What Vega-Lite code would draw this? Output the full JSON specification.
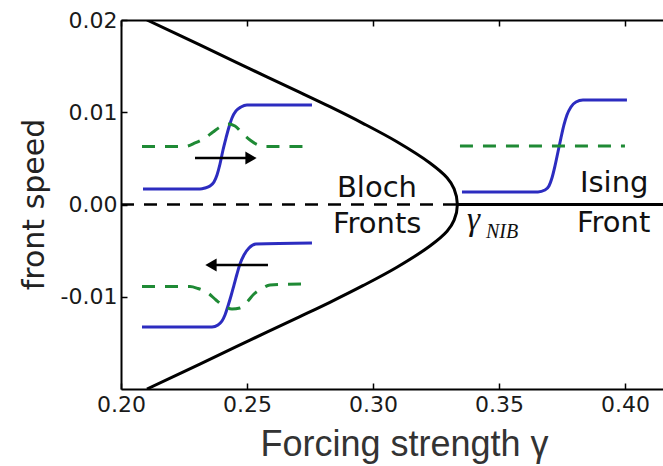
{
  "$schema": "https://vega.github.io/schema/vega-lite/v6.json",
  "width": 542,
  "height": 369,
  "autosize": {"type": "none"},
  "padding": {"left": 121, "top": 20, "right": 0, "bottom": 77},
  "background": "white",
  "config": {"view": {"stroke": null}, "axis": {"grid": false}},
  "datasets": {
    "curve": [
      {"i": 0, "g": 0.2103, "v": 0.0200},
      {"i": 1, "g": 0.2313, "v": 0.0173},
      {"i": 2, "g": 0.2512, "v": 0.0147},
      {"i": 3, "g": 0.2710, "v": 0.01215},
      {"i": 4, "g": 0.2829, "v": 0.0106},
      {"i": 5, "g": 0.2960, "v": 0.0088},
      {"i": 6, "g": 0.3095, "v": 0.0068},
      {"i": 7, "g": 0.3226, "v": 0.0045},
      {"i": 8, "g": 0.3294, "v": 0.0029},
      {"i": 9, "g": 0.3322, "v": 0.0017},
      {"i": 10, "g": 0.3335, "v": 0.0},
      {"i": 11, "g": 0.3322, "v": -0.0017},
      {"i": 12, "g": 0.3294, "v": -0.0029},
      {"i": 13, "g": 0.3226, "v": -0.0045},
      {"i": 14, "g": 0.3095, "v": -0.0068},
      {"i": 15, "g": 0.2960, "v": -0.0088},
      {"i": 16, "g": 0.2829, "v": -0.0106},
      {"i": 17, "g": 0.2710, "v": -0.01215},
      {"i": 18, "g": 0.2512, "v": -0.0147},
      {"i": 19, "g": 0.2313, "v": -0.0173},
      {"i": 20, "g": 0.2103, "v": -0.0200}
    ],
    "blue": [
      {"inset": "bloch_up", "g": 0.20873, "v": 0.00168},
      {"inset": "bloch_up", "g": 0.23135, "v": 0.00168},
      {"inset": "bloch_up", "g": 0.23333, "v": 0.00179},
      {"inset": "bloch_up", "g": 0.23532, "v": 0.00201},
      {"inset": "bloch_up", "g": 0.23690, "v": 0.00244},
      {"inset": "bloch_up", "g": 0.23810, "v": 0.00320},
      {"inset": "bloch_up", "g": 0.23929, "v": 0.00439},
      {"inset": "bloch_up", "g": 0.24048, "v": 0.00591},
      {"inset": "bloch_up", "g": 0.24167, "v": 0.00721},
      {"inset": "bloch_up", "g": 0.24286, "v": 0.00840},
      {"inset": "bloch_up", "g": 0.24405, "v": 0.00938},
      {"inset": "bloch_up", "g": 0.24563, "v": 0.01014},
      {"inset": "bloch_up", "g": 0.24762, "v": 0.01057},
      {"inset": "bloch_up", "g": 0.25000, "v": 0.01079},
      {"inset": "bloch_up", "g": 0.27579, "v": 0.01079},
      {"inset": "bloch_down", "g": 0.20833, "v": -0.01328},
      {"inset": "bloch_down", "g": 0.23611, "v": -0.01328},
      {"inset": "bloch_down", "g": 0.23849, "v": -0.01306},
      {"inset": "bloch_down", "g": 0.24008, "v": -0.01263},
      {"inset": "bloch_down", "g": 0.24127, "v": -0.01198},
      {"inset": "bloch_down", "g": 0.24246, "v": -0.01100},
      {"inset": "bloch_down", "g": 0.24365, "v": -0.00992},
      {"inset": "bloch_down", "g": 0.24484, "v": -0.00873},
      {"inset": "bloch_down", "g": 0.24603, "v": -0.00753},
      {"inset": "bloch_down", "g": 0.24722, "v": -0.00645},
      {"inset": "bloch_down", "g": 0.24881, "v": -0.00547},
      {"inset": "bloch_down", "g": 0.25079, "v": -0.00472},
      {"inset": "bloch_down", "g": 0.25357, "v": -0.00428},
      {"inset": "bloch_down", "g": 0.27579, "v": -0.00417},
      {"inset": "ising", "g": 0.33532, "v": 0.00136},
      {"inset": "ising", "g": 0.36548, "v": 0.00136},
      {"inset": "ising", "g": 0.36825, "v": 0.00157},
      {"inset": "ising", "g": 0.36984, "v": 0.00201},
      {"inset": "ising", "g": 0.37103, "v": 0.00287},
      {"inset": "ising", "g": 0.37222, "v": 0.00417},
      {"inset": "ising", "g": 0.37341, "v": 0.00569},
      {"inset": "ising", "g": 0.37460, "v": 0.00721},
      {"inset": "ising", "g": 0.37579, "v": 0.00862},
      {"inset": "ising", "g": 0.37698, "v": 0.00970},
      {"inset": "ising", "g": 0.37857, "v": 0.01057},
      {"inset": "ising", "g": 0.38056, "v": 0.01111},
      {"inset": "ising", "g": 0.38333, "v": 0.01133},
      {"inset": "ising", "g": 0.40079, "v": 0.01133}
    ],
    "green": [
      {"inset": "bloch_up", "g": 0.20833, "v": 0.00629},
      {"inset": "bloch_up", "g": 0.22540, "v": 0.00629},
      {"inset": "bloch_up", "g": 0.22937, "v": 0.00667},
      {"inset": "bloch_up", "g": 0.23333, "v": 0.00721},
      {"inset": "bloch_up", "g": 0.23651, "v": 0.00786},
      {"inset": "bloch_up", "g": 0.23929, "v": 0.00840},
      {"inset": "bloch_up", "g": 0.24246, "v": 0.00873},
      {"inset": "bloch_up", "g": 0.24524, "v": 0.00851},
      {"inset": "bloch_up", "g": 0.24802, "v": 0.00775},
      {"inset": "bloch_up", "g": 0.25119, "v": 0.00699},
      {"inset": "bloch_up", "g": 0.25437, "v": 0.00645},
      {"inset": "bloch_up", "g": 0.25714, "v": 0.00629},
      {"inset": "bloch_up", "g": 0.27222, "v": 0.00629},
      {"inset": "bloch_down", "g": 0.20833, "v": -0.00889},
      {"inset": "bloch_down", "g": 0.22738, "v": -0.00889},
      {"inset": "bloch_down", "g": 0.23056, "v": -0.00911},
      {"inset": "bloch_down", "g": 0.23452, "v": -0.00959},
      {"inset": "bloch_down", "g": 0.23770, "v": -0.01035},
      {"inset": "bloch_down", "g": 0.24087, "v": -0.01100},
      {"inset": "bloch_down", "g": 0.24405, "v": -0.01133},
      {"inset": "bloch_down", "g": 0.24722, "v": -0.01122},
      {"inset": "bloch_down", "g": 0.25000, "v": -0.01057},
      {"inset": "bloch_down", "g": 0.25278, "v": -0.00970},
      {"inset": "bloch_down", "g": 0.25595, "v": -0.00911},
      {"inset": "bloch_down", "g": 0.25913, "v": -0.00873},
      {"inset": "bloch_down", "g": 0.27183, "v": -0.00862},
      {"inset": "ising", "g": 0.33452, "v": 0.00634},
      {"inset": "ising", "g": 0.40000, "v": 0.00634}
    ],
    "arrows": [
      {"dir": "right", "g": 0.22937, "g2": 0.25000, "head": 0.25159, "v": 0.00504},
      {"dir": "left", "g": 0.25833, "g2": 0.23690, "head": 0.23571, "v": -0.00656}
    ],
    "labels": [
      {"g": 0.28571, "v": 0.00081, "text": "Bloch"},
      {"g": 0.28413, "v": -0.00309, "text": "Fronts"},
      {"g": 0.38214, "v": 0.00136, "text": "Ising"},
      {"g": 0.38095, "v": -0.00298, "text": "Front"}
    ]
  },
  "encoding": {
    "x": {"field": "g", "type": "quantitative", "scale": {"domain": [0.2, 0.4151], "nice": false, "zero": false}, "axis": null},
    "y": {
      "field": "v",
      "type": "quantitative",
      "scale": {"domain": [-0.02, 0.02], "nice": false, "zero": false},
      "axis": {
        "values": [-0.01, 0, 0.01, 0.02],
        "labelExpr": "datum.value < 0 ? '-' + format(-datum.value, '.2f') : format(datum.value, '.2f')",
        "title": "front speed",
        "titleFont": "DejaVu Sans",
        "titleFontSize": 30,
        "titleFontWeight": "normal",
        "titleColor": "#222222",
        "titleX": -78,
        "titleY": 184,
        "titleAngle": 270,
        "titleAlign": "center",
        "titleBaseline": "alphabetic",
        "labelFont": "DejaVu Sans",
        "labelFontSize": 22,
        "labelColor": "#1a1a1a",
        "labelPadding": 10,
        "labelFlush": false,
        "tickSize": -6,
        "tickColor": "black",
        "tickWidth": 1.5,
        "domainColor": "black",
        "domainWidth": 2,
        "grid": false
      }
    }
  },
  "resolve": {"axis": {"x": "independent"}},
  "layer": [
    {
      "data": {"values": [{"g": 0.2, "g2": 0.3335, "v": 0}]},
      "mark": {"type": "rule", "color": "black", "strokeWidth": 2.5, "strokeDash": [13, 10]},
      "encoding": {
        "x": {
          "field": "g",
          "type": "quantitative",
          "scale": {"domain": [0.2, 0.4151], "nice": false, "zero": false},
          "axis": {
            "orient": "top",
            "values": [0.2, 0.25, 0.3, 0.35, 0.4],
            "labels": false,
            "title": null,
            "tickSize": -6,
            "tickColor": "black",
            "tickWidth": 1.5,
            "domainColor": "black",
            "domainWidth": 2,
            "grid": false
          }
        },
        "x2": {"field": "g2"}
      }
    },
    {
      "data": {"values": [{"g": 0.3335, "g2": 0.4151, "v": 0}]},
      "mark": {"type": "rule", "color": "black", "strokeWidth": 3},
      "encoding": {"x2": {"field": "g2"}}
    },
    {
      "data": {"name": "curve"},
      "mark": {"type": "line", "color": "black", "strokeWidth": 3, "interpolate": "catmull-rom", "clip": true},
      "encoding": {
        "x": {
          "field": "g",
          "type": "quantitative",
          "scale": {"domain": [0.2, 0.4151], "nice": false, "zero": false},
          "axis": {
            "orient": "bottom",
            "values": [0.2, 0.25, 0.3, 0.35, 0.4],
            "format": ".2f",
            "title": "Forcing strength γ",
            "titleFont": "Liberation Sans",
            "titleFontSize": 36,
            "titleFontWeight": "normal",
            "titleColor": "#333333",
            "titleX": 283,
            "titleY": 66,
            "titleAlign": "center",
            "titleBaseline": "alphabetic",
            "labelFont": "DejaVu Sans",
            "labelFontSize": 22,
            "labelColor": "#1a1a1a",
            "labelPadding": 11,
            "labelFlush": false,
            "labelOverlap": false,
            "tickSize": -6,
            "tickColor": "black",
            "tickWidth": 1.5,
            "domainColor": "black",
            "domainWidth": 2,
            "grid": false
          }
        },
        "order": {"field": "i", "type": "quantitative"}
      }
    },
    {
      "data": {"name": "blue"},
      "mark": {"type": "line", "color": "#2c2cc0", "strokeWidth": 3, "interpolate": "monotone"},
      "encoding": {"detail": {"field": "inset"}}
    },
    {
      "data": {"name": "green"},
      "mark": {"type": "line", "color": "#1f8a35", "strokeWidth": 3, "strokeDash": [13, 10], "interpolate": "monotone"},
      "encoding": {"detail": {"field": "inset"}}
    },
    {
      "data": {"name": "arrows"},
      "mark": {"type": "rule", "color": "black", "strokeWidth": 2.5},
      "encoding": {"x2": {"field": "g2"}}
    },
    {
      "data": {"name": "arrows"},
      "mark": {"type": "point", "filled": true, "color": "black", "size": 170, "opacity": 1},
      "encoding": {
        "x": {"field": "head", "type": "quantitative", "axis": null},
        "shape": {"field": "dir", "type": "nominal", "scale": {"domain": ["right", "left"], "range": ["triangle-right", "triangle-left"]}, "legend": null}
      }
    },
    {
      "data": {"name": "labels"},
      "mark": {"type": "text", "font": "DejaVu Sans", "fontSize": 29, "color": "#111111", "align": "left", "baseline": "alphabetic"},
      "encoding": {"text": {"field": "text"}}
    },
    {
      "data": {"values": [{"g": 0.3373, "v": -0.00276, "text": "γ"}]},
      "mark": {"type": "text", "font": "Liberation Serif", "fontStyle": "italic", "fontSize": 33, "color": "#111111", "align": "left", "baseline": "alphabetic"},
      "encoding": {"text": {"field": "text"}}
    },
    {
      "data": {"values": [{"g": 0.34484, "v": -0.00363, "text": "NIB"}]},
      "mark": {"type": "text", "font": "Liberation Serif", "fontStyle": "italic", "fontSize": 20, "color": "#111111", "align": "left", "baseline": "alphabetic"},
      "encoding": {"text": {"field": "text"}}
    }
  ]
}
